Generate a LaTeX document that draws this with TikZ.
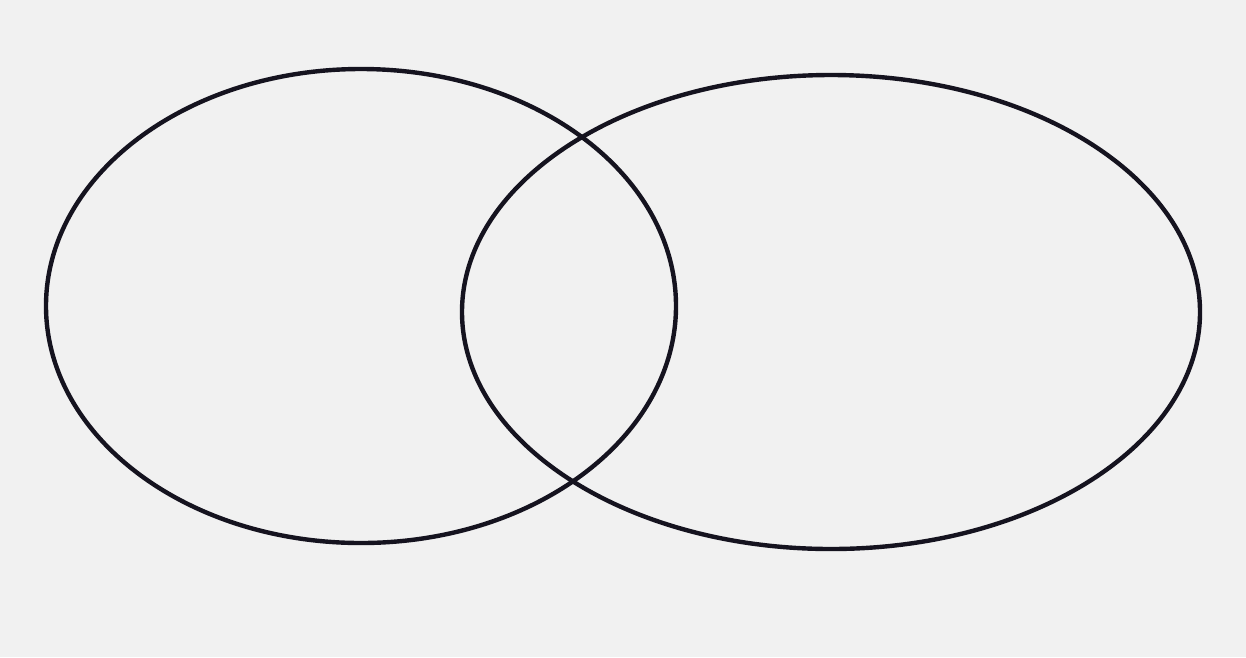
\documentclass[tikz,border=0pt]{standalone}
\definecolor{bg}{HTML}{F1F1F1}
\definecolor{ink}{HTML}{15131F}
\begin{document}
\begin{tikzpicture}[x=1pt,y=-1pt,
  ring/.style={draw=ink,line width=4.4pt}]
\fill[bg] (0,0) rectangle (1246,657);
\useasboundingbox (0,0) rectangle (1246,657);
\draw[ring] (361,306) ellipse [x radius=315, y radius=237];
\draw[ring] (831,312) ellipse [x radius=369, y radius=237];
\end{tikzpicture}
\end{document}
